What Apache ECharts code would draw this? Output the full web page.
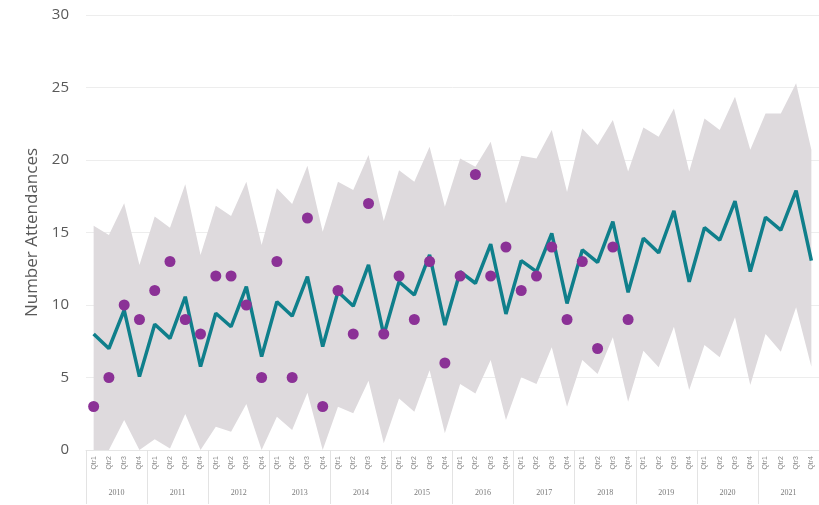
<!DOCTYPE html>
<html>
<head>
<meta charset="utf-8">
<script src="https://cdn.jsdelivr.net/npm/echarts@6/dist/echarts.min.js"></script>
<style>
  html, body { margin: 0; padding: 0; background: #fff; }
  #chart { width: 819px; height: 505px; }
</style>
</head>
<body>
<div id="chart"></div>
<script>
const years = ['2010', '2011', '2012', '2013', '2014', '2015', '2016', '2017', '2018', '2019', '2020', '2021'];
const quarterNames = ['Qtr1', 'Qtr2', 'Qtr3', 'Qtr4'];

// forecast line (teal)
const forecast = [
  8.0, 7.0, 9.65, 5.06, 8.67, 7.7, 10.57, 5.75, 9.43, 8.5, 11.26, 6.44,
  10.23, 9.24, 11.95, 7.13, 10.92, 9.93, 12.76, 7.93, 11.6, 10.69, 13.45, 8.62,
  12.3, 11.5, 14.2, 9.38, 13.06, 12.3, 14.94, 10.11, 13.8, 12.94, 15.75, 10.87,
  14.6, 13.6, 16.5, 11.6, 15.33, 14.48, 17.17, 12.3, 16.05, 15.17, 17.88, 13.06
];

// upper / lower bounds of the grey band
const upper = [
  15.47, 14.83, 17.01, 12.76, 16.1, 15.33, 18.32, 13.45, 16.85, 16.14, 18.5, 14.14,
  18.05, 16.97, 19.6, 15.06, 18.5, 17.93, 20.34, 15.8, 19.3, 18.5, 20.92, 16.78,
  20.1, 19.54, 21.26, 17.0, 20.3, 20.1, 22.07, 17.8, 22.18, 21.03, 22.76, 19.2,
  22.25, 21.6, 23.56, 19.2, 22.87, 22.07, 24.37, 20.7, 23.2, 23.2, 25.3, 20.7
];
const lower = [
  0, 0, 2.07, 0, 0.74, 0.1, 2.48, 0, 1.61, 1.26, 3.17, 0,
  2.3, 1.38, 3.95, 0, 2.99, 2.53, 4.78, 0.46, 3.56, 2.64, 5.5, 1.15,
  4.55, 3.9, 6.2, 2.07, 5.01, 4.55, 7.08, 2.99, 6.2, 5.24, 7.77, 3.33,
  6.85, 5.7, 8.5, 4.14, 7.24, 6.39, 9.15, 4.48, 8.0, 6.78, 9.84, 5.75
];

// observed attendances (purple dots), 2010-2018
const actual = [
  3, 5, 10, 9, 11, 13, 9, 8, 12, 12, 10, 5,
  13, 5, 16, 3, 11, 8, 17, 8, 12, 9, 13, 6,
  12, 19, 12, 14, 11, 12, 14, 9, 13, 7, 14, 9
];

const quarters = [];
years.forEach(y => quarterNames.forEach(q => quarters.push(y + ' ' + q)));
const bandWidth = upper.map((u, i) => +(u - lower[i]).toFixed(2));

const chart = echarts.init(document.getElementById('chart'));

chart.setOption({
  animation: false,
  grid: { left: 86, right: 0, top: 15, bottom: 55 },
  xAxis: [
    {
      type: 'category',
      data: quarters,
      boundaryGap: true,
      axisLine: { lineStyle: { color: '#e6e6e6' } },
      axisTick: { show: false },
      axisLabel: {
        interval: 0,
        rotate: 90,
        fontSize: 7,
        color: '#8a8a8a',
        margin: 6,
        fontFamily: 'Liberation Sans',
        formatter: v => v.split(' ')[1]
      }
    },
    {
      type: 'category',
      data: years,
      position: 'bottom',
      boundaryGap: true,
      axisLine: { show: false },
      axisTick: {
        show: true,
        inside: false,
        length: 54,
        interval: 0,
        lineStyle: { color: '#e3e3e3' }
      },
      axisLabel: {
        interval: 0,
        fontSize: 8,
        color: '#7a7a7a',
        margin: 39,
        fontFamily: 'Liberation Serif'
      }
    }
  ],
  yAxis: {
    type: 'value',
    min: 0,
    max: 30,
    interval: 5,
    name: 'Number Attendances',
    nameLocation: 'middle',
    nameGap: 45,
    nameTextStyle: { fontSize: 17, color: '#595959', fontFamily: 'Open Sans' },
    axisLine: { show: false },
    axisTick: { show: false },
    axisLabel: { fontSize: 15, color: '#595959', margin: 17, fontFamily: 'Open Sans' },
    splitLine: { lineStyle: { color: '#ededed', width: 1 } }
  },
  series: [
    {
      name: 'Lower',
      type: 'line',
      stack: 'band',
      data: lower,
      symbol: 'none',
      lineStyle: { opacity: 0 },
      silent: true
    },
    {
      name: 'Band',
      type: 'line',
      stack: 'band',
      data: bandWidth,
      symbol: 'none',
      lineStyle: { opacity: 0 },
      areaStyle: { color: '#dedadd', opacity: 1 },
      silent: true
    },
    {
      name: 'Forecast',
      type: 'line',
      data: forecast,
      symbol: 'none',
      lineStyle: { color: '#0f7f8b', width: 3.5 },
      z: 3
    },
    {
      name: 'Actual',
      type: 'scatter',
      data: actual,
      symbolSize: 11,
      itemStyle: { color: '#8b3196', opacity: 1 },
      z: 4
    }
  ]
});
</script>
</body>
</html>
